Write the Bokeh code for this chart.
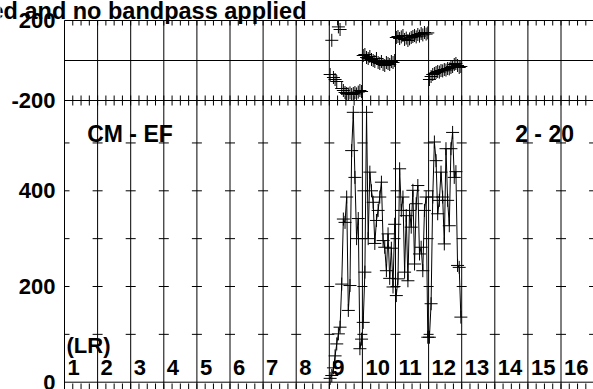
from bokeh.plotting import figure
from bokeh.models import Range1d, Label
from bokeh.embed import file_html
from bokeh.resources import INLINE

# ---------------- data ----------------
N_CH = 20
if_labels = ["1", "2", "3", "4", "5", "6", "7", "8", "9", "10", "11", "12", "13", "14", "15", "16"]
data_ifs = [9, 10, 11, 12]

amp_if9 = [8, 14, 30, 55, 80, 101, 115, 205, 341, 334, 387, 150, 202, 484, 564, 428, 300, 342, 70, 90]
amp_if10 = [125, 230, 564, 300, 439, 400, 376, 290, 338, 359, 387, 418, 296, 282, 233, 310, 217, 280, 199, 330]
amp_if11 = [181, 216, 446, 359, 387, 230, 348, 212, 359, 324, 401, 247, 373, 411, 268, 282, 233, 359, 387, 94]
amp_if12 = [94, 164, 387, 502, 463, 352, 380, 439, 387, 289, 488, 380, 327, 488, 522, 428, 440, 244, 240, 136]

phase_if9 = [-70, 101, -85, -95, -105, 168, 155, -140, -150, -160, -165, -168, -162, -170, -165, -160, -167, -158, -150, -155]
phase_if10 = [25, 30, 15, 10, 20, 5, 0, -5, 10, -10, -15, -5, -20, -25, -10, -15, -20, -5, -10, 0]
phase_if11 = [115, 120, 110, 118, 125, 105, 112, 100, 108, 115, 120, 125, 118, 130, 122, 135, 128, 140, 132, 138]
phase_if12 = [-95, -80, -70, -65, -60, -55, -58, -50, -52, -45, -48, -40, -42, -35, -30, -20, -15, -25, -35, -30]

amp_ticks = [0, 200, 400]
amp_minor = [100, 200, 300, 400, 500]
phase_ticks = [-200, 200]
phase_zero = 0
baseline_label = "CM - EF"
time_label = "2 - 20"
pol_label = "(LR)"
title_text = "ed and no bandpass applied"

amps = [amp_if9, amp_if10, amp_if11, amp_if12]
phases = [phase_if9, phase_if10, phase_if11, phase_if12]

# ---------------- geometry (pixels) ----------------
W, H = 593, 389
FL = 64                    # left edge of the plot box (px)
PH_TOP_Y = 20              # page y of phase +200
PX_IF = 33.1               # px per IF
AMP_PX = 0.4785            # px per amplitude unit
AMP0_Y = 381.7             # page y of amplitude 0
PH_PER_PX = 5.0            # phase units per px

x_start = -FL / PX_IF
x_end = (W - FL) / PX_IF
amp_start = -(H - AMP0_Y) / AMP_PX
amp_end = amp_start + H / AMP_PX
ph_end = phase_ticks[1] + PH_TOP_Y * PH_PER_PX
ph_start = ph_end - H * PH_PER_PX


def ph2amp(ph):
    return amp_start + (ph - ph_start) * (amp_end - amp_start) / (ph_end - ph_start)


def dx(px):
    return px / PX_IF


def dy(px):
    return px / AMP_PX


def yat(page_y):
    return (AMP0_Y - page_y) / AMP_PX


FONT = "Liberation Sans"

p = figure(width=W, height=H, x_range=Range1d(x_start, x_end), y_range=Range1d(amp_start, amp_end),
           output_backend="svg", toolbar_location=None,
           x_axis_location=None, y_axis_location=None,
           min_border_left=0, min_border_right=0, min_border_top=0, min_border_bottom=0)
p.extra_y_ranges = {"phase": Range1d(ph_start, ph_end)}
p.xgrid.visible = False
p.ygrid.visible = False
p.outline_line_color = None
p.background_fill_color = "white"
p.border_fill_color = "white"

top = ph2amp(phase_ticks[1])
bnd = ph2amp(phase_ticks[0])
n_if = len(if_labels)

x0s, y0s, x1s, y1s = [], [], [], []
# vertical IF boundary lines (incl. left edge)
for k in range(n_if + 1):
    x0s.append(k); x1s.append(k); y0s.append(amp_start); y1s.append(top)
# horizontal lines: top edge, phase zero, panel boundary, amplitude zero
for yy in [top, ph2amp(phase_zero), bnd, 0.0]:
    x0s.append(0); x1s.append(x_end); y0s.append(yy); y1s.append(yy)
# minor x ticks (quarter IF)
for j in range(4 * n_if + 1):
    x = j * 0.25
    x0s += [x, x, x]
    x1s += [x, x, x]
    y0s += [top, bnd - dy(5), amp_start]
    y1s += [top - dy(5), bnd + dy(5), amp_start + dy(6)]
# amplitude tick crosses on every IF line
for a in amp_minor:
    for k in range(n_if + 1):
        x0s.append(max(0, k - dx(5)))
        x1s.append(k + dx(5))
        y0s.append(a)
        y1s.append(a)
p.segment(x0s, y0s, x1s, y1s, line_color="black", line_width=1)

# data
for n, a, ph in zip(data_ifs, amps, phases):
    xs = [(n - 1) + (i + 0.5) / N_CH for i in range(N_CH)]
    p.line(xs, a, line_color="black", line_width=1)
    p.scatter(xs, a, marker="cross", size=13, line_color="black", line_width=1)
    p.scatter(xs, ph, marker="cross", size=13, line_color="black", line_width=1, y_range_name="phase")


# labels
def lab(text, x, y, align="left", base="alphabetic", size="22px"):
    p.add_layout(Label(x=x, y=y, text=text, text_align=align, text_baseline=base,
                       text_font=FONT, text_font_style="bold", text_font_size=size,
                       text_color="black"))


for t in amp_ticks:
    lab(str(t), dx(-9), t, align="right", base="middle")
for t in phase_ticks:
    lab(str(t), dx(-9), ph2amp(t), align="right", base="middle")

for k, s in enumerate(if_labels):
    lab(s, k + dx(3), yat(366.7))
lab(pol_label, dx(2), yat(345))
lab(baseline_label, dx(86.7 - FL), yat(133.3), size="23px")
lab(time_label, dx(573.5 - FL), yat(133.3), align="right", size="23px")
lab(title_text, dx(-10 - FL), yat(10.5), size="23.5px")

open("out.html", "w").write(file_html(p, INLINE))
